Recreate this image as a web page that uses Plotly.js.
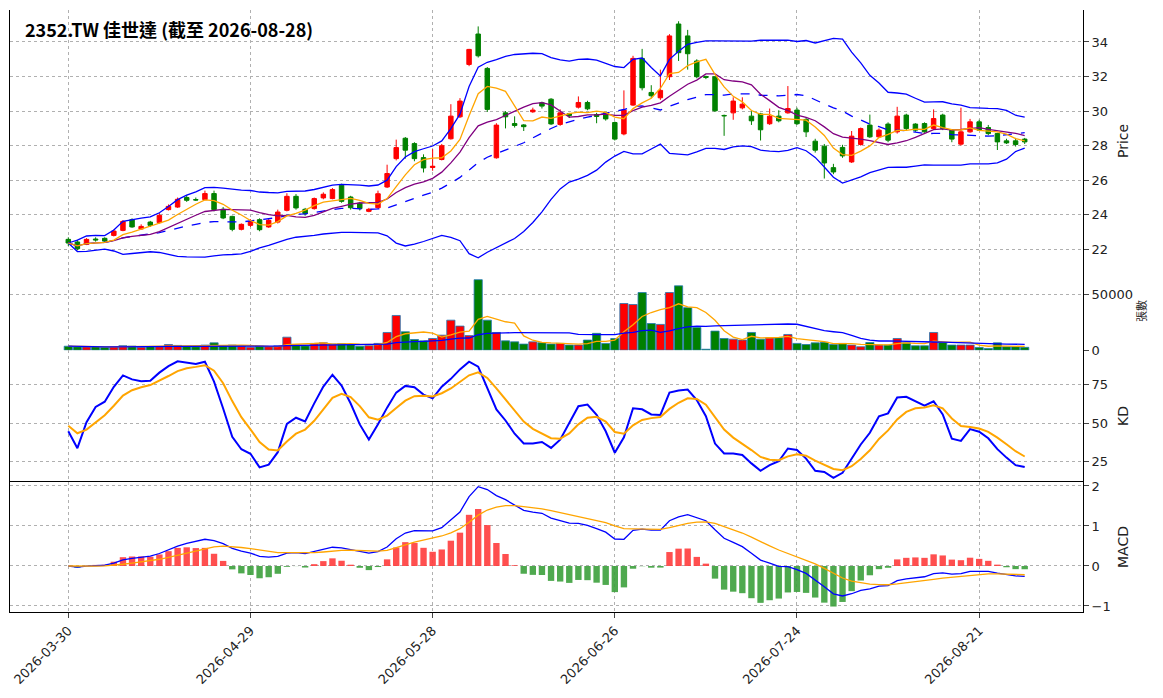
<!DOCTYPE html>
<html><head><meta charset="utf-8">
<script src="https://cdn.plot.ly/plotly-3.0.1.min.js"></script>
<style>body{margin:0;background:#fff}#chart{width:1163px;height:698px}</style>
</head><body><div id="chart"></div>
<script>
var tickLabels = ['2026-03-30','2026-04-29','2026-05-28','2026-06-26','2026-07-24','2026-08-21'];
var tickIdx = [0,20,40,60,80,100];
var opens = [22.58,22.43,22.29,22.6,22.64,22.81,23.10,23.72,23.18,23.58,
 23.55,24.30,24.45,25.00,24.88,24.88,25.23,24.32,23.91,23.16,
 23.39,23.72,23.30,23.58,24.26,25.07,24.32,24.36,24.98,24.94,
 25.71,25.03,24.68,24.20,24.41,25.61,27.25,28.43,28.12,27.31,
 26.74,27.20,28.40,29.67,32.70,34.46,32.47,27.30,29.90,29.28,
 29.20,29.96,30.48,30.69,29.23,29.85,30.23,30.50,29.80,29.92,
 29.34,28.68,30.35,33.05,31.08,30.77,31.99,35.04,34.35,32.90,
 32.00,31.99,29.75,29.90,30.19,29.71,29.84,29.27,29.71,29.90,
 30.06,29.52,28.26,27.97,26.73,27.90,27.06,28.07,29.19,28.51,
 29.25,28.80,29.77,29.25,29.28,28.99,29.77,28.90,28.09,28.80,
 29.38,29.05,28.70,28.28,28.28,28.38];
var closes = [22.37,22.04,22.58,22.55,22.48,23.06,23.62,23.30,23.33,23.39,
 23.97,24.49,24.90,24.84,24.86,25.23,24.30,23.82,23.16,23.45,
 23.62,23.14,23.68,24.16,25.07,24.40,24.07,24.94,25.19,25.46,
 24.78,24.41,24.36,24.32,25.22,26.39,27.89,27.74,27.25,26.71,
 26.81,28.00,29.71,30.58,33.57,33.20,30.10,29.19,29.67,29.17,
 29.10,30.06,30.29,29.26,29.90,29.75,30.50,30.13,29.69,29.55,
 28.38,30.06,33.05,31.35,30.89,31.20,34.35,33.38,33.32,31.99,
 31.95,30.02,29.73,30.58,30.40,29.44,28.92,29.71,29.44,30.15,
 29.27,28.80,27.74,27.00,26.48,27.41,28.55,28.99,28.51,28.90,
 28.32,29.71,28.99,28.90,28.80,29.57,28.99,28.38,28.80,29.38,
 28.90,28.70,28.22,28.16,28.07,28.22];
var highs = [22.7,22.55,22.65,22.7,22.7,23.15,23.7,23.8,23.45,23.65,
 24.1,24.6,25.0,25.15,25.0,25.4,25.4,24.45,23.95,23.5,
 23.75,23.8,23.8,24.3,25.25,25.2,24.4,25.0,25.3,25.55,
 25.8,25.1,24.75,24.4,25.4,26.9,28.35,28.5,28.2,27.5,
 27.8,28.1,30.4,30.75,33.6,34.9,32.55,29.3,30.0,29.7,
 29.25,30.2,30.55,30.75,30.1,29.9,30.85,30.6,29.9,29.95,
 29.4,31.2,33.2,33.6,31.5,32.4,34.45,35.2,34.7,33.0,
 32.05,32.0,29.8,30.8,30.8,30.0,29.9,30.15,30.05,31.45,
 30.2,29.6,28.4,28.1,26.95,28.05,28.85,29.05,29.8,29.0,
 29.35,30.25,29.85,29.3,29.35,30.1,29.85,28.95,30.2,29.55,
 29.5,29.2,28.75,28.4,28.45,28.45];
var lows = [22.2,21.95,22.25,22.45,22.4,22.75,23.05,23.25,23.15,23.3,
 23.5,24.25,24.4,24.75,24.8,24.85,24.2,23.75,23.05,23.1,
 23.3,23.05,23.25,23.5,24.2,24.3,23.95,24.3,24.9,24.9,
 24.7,24.3,24.25,24.15,24.35,25.55,27.15,27.25,27.1,26.45,
 26.55,27.15,28.35,29.6,32.6,33.1,29.95,27.25,29.0,29.05,
 28.85,29.9,30.15,29.2,29.15,29.6,30.15,30.05,29.3,29.45,
 28.3,28.6,30.3,31.2,30.75,30.65,31.8,32.9,32.4,31.9,
 31.85,29.95,28.57,29.5,30.1,29.2,28.3,29.2,29.35,29.85,
 29.2,28.5,27.6,26.1,26.35,27.3,27.0,28.0,28.45,28.45,
 28.2,28.7,28.9,28.8,28.75,28.95,28.9,28.2,28.0,28.75,
 28.85,28.6,27.75,28.1,27.95,28.1];
var volumes = [3500,3000,2800,3200,2500,3000,4000,3600,2500,3200,
 3000,5000,4200,3500,3000,4500,6500,3800,4500,3200,
 2600,3500,3000,3800,11600,4500,3800,6000,6500,5500,
 5800,5000,3500,4000,6000,15800,31000,16400,9500,8300,
 10400,13400,26800,21500,13000,63000,26800,15800,8300,7400,
 5400,7400,6600,5400,6000,4500,4500,9000,15000,6000,
 10400,41700,40800,51500,23800,23000,51500,57500,38000,20300,
 800,17000,10400,9800,9000,15800,9800,11000,11000,14000,
 6000,5000,6500,7000,5000,6000,4500,3000,6800,4500,
 4500,10400,6500,3900,3900,15800,6800,4500,4500,4500,
 2400,1500,6500,3000,3000,2500];

var n = closes.length, idx = [];
for (var i = 0; i < n; i++) idx.push(i);

function sma(a, w) { return a.map(function(v, i) { var s = a.slice(Math.max(0, i-w+1), i+1); return s.reduce(function(p, q){return p+q;}, 0)/s.length; }); }
function std(a, w) { var m = sma(a, w); return a.map(function(v, i) { var s = a.slice(Math.max(0, i-w+1), i+1); return Math.sqrt(s.reduce(function(p, q){return p+(q-m[i])*(q-m[i]);}, 0)/s.length); }); }
function ema(a, w) { var k = 2/(w+1), out = [a[0]]; for (var i = 1; i < a.length; i++) out.push(out[i-1] + k*(a[i]-out[i-1])); return out; }

var ma5 = sma(closes, 5), ma10 = sma(closes, 10), mid = sma(closes, 20), sd = std(closes, 20);
var up = mid.map(function(m, i){return m + 2*sd[i];}), dn = mid.map(function(m, i){return m - 2*sd[i];});
var vma5 = sma(volumes, 5), vma20 = sma(volumes, 20);
var K = [], D = [], k = 50, d = 50;
for (var i = 0; i < n; i++) {
  var hh = Math.max.apply(null, highs.slice(Math.max(0, i-8), i+1));
  var ll = Math.min.apply(null, lows.slice(Math.max(0, i-8), i+1));
  var rsv = hh === ll ? 50 : (closes[i]-ll)/(hh-ll)*100;
  k = (2*k + rsv)/3; d = (2*d + k)/3; K.push(k); D.push(d);
}
var e12 = ema(closes, 12), e26 = ema(closes, 26);
var dif = e12.map(function(v, i){return v - e26[i];}), dea = ema(dif, 9);
var hist = dif.map(function(v, i){return 2*(v - dea[i]);});

var volColors = closes.map(function(c, i){return c >= opens[i] ? 'red' : 'green';});
var histColors = hist.map(function(h){return h >= 0 ? 'rgba(255,60,60,0.9)' : 'rgba(60,160,60,0.9)';});

function line(y, color, ax, extra) {
  var t = {x: idx, y: y, type: 'scatter', mode: 'lines', line: {color: color, width: 1.3}, xaxis: 'x', yaxis: ax, hoverinfo: 'skip'};
  if (extra) t.line.dash = extra;
  return t;
}

var data = [
  {x: idx, open: opens, high: highs, low: lows, close: closes, type: 'candlestick', xaxis: 'x', yaxis: 'y',
   increasing: {line: {color: 'red', width: 1}, fillcolor: 'red'}, decreasing: {line: {color: 'green', width: 1}, fillcolor: 'green'}, whiskerwidth: 0},
  line(up, 'blue', 'y'), line(dn, 'blue', 'y'), line(mid, 'blue', 'y', 'dash'),
  line(ma10, 'purple', 'y'), line(ma5, 'orange', 'y'),
  {x: idx, y: volumes, type: 'bar', xaxis: 'x', yaxis: 'y2', marker: {color: volColors, line: {color: '#1f77b4', width: 0.8}}, width: 0.9},
  line(vma5, 'orange', 'y2'), line(vma20, 'blue', 'y2'),
  {x: idx, y: K, type: 'scatter', mode: 'lines', line: {color: 'blue', width: 2}, xaxis: 'x', yaxis: 'y3'},
  {x: idx, y: D, type: 'scatter', mode: 'lines', line: {color: 'orange', width: 2}, xaxis: 'x', yaxis: 'y3'},
  {x: idx, y: hist, type: 'bar', xaxis: 'x', yaxis: 'y4', marker: {color: histColors}, width: 0.7},
  line(dif, 'blue', 'y4'), line(dea, 'orange', 'y4')
];

var grid = {showgrid: true, gridcolor: '#b0b0b0', griddash: 'dot', gridwidth: 1, zeroline: false,
  showline: true, linecolor: 'black', linewidth: 1, mirror: true, side: 'right', ticks: 'outside',
  tickfont: {size: 13, color: '#222'}, title: {font: {size: 14}}};
function ax(o) { return Object.assign({}, grid, o); }

var layout = {
  width: 1163, height: 698, paper_bgcolor: 'white', plot_bgcolor: 'white', showlegend: false,
  margin: {l: 10, r: 80, t: 10, b: 86}, bargap: 0.1,
  font: {family: 'DejaVu Sans, Noto Sans CJK TC', color: '#222'},
  xaxis: ax({range: [-6.4, 111.4], anchor: 'y4', side: 'bottom', tickvals: tickIdx, ticktext: tickLabels, tickangle: -45, rangeslider: {visible: false}}),
  yaxis: ax({domain: [0.565, 1], range: [20.7, 35.85], dtick: 2, title: {text: 'Price', font: {size: 14}}}),
  yaxis2: ax({domain: [0.435, 0.565], range: [0, 70000], tickvals: [0, 50000], ticktext: ['0', '50000'], title: {text: '張數', font: {size: 11}}}),
  yaxis3: ax({domain: [0.216, 0.435], range: [12, 97], tickvals: [25, 50, 75], title: {text: 'KD', font: {size: 14}}}),
  yaxis4: ax({domain: [0, 0.216], range: [-1.15, 2.1], tickvals: [-1, 0, 1, 2], title: {text: 'MACD', font: {size: 14}}}),
  annotations: [{xref: 'paper', yref: 'paper', x: 0.012, y: 0.993, xanchor: 'left', yanchor: 'top', showarrow: false,
    text: '<b>2352.TW 佳世達 (截至 2026-08-28)</b>', font: {family: 'Noto Sans CJK TC', size: 18, color: 'black'}}]
};
Plotly.newPlot('chart', data, layout, {staticPlot: true});
</script></body></html>
